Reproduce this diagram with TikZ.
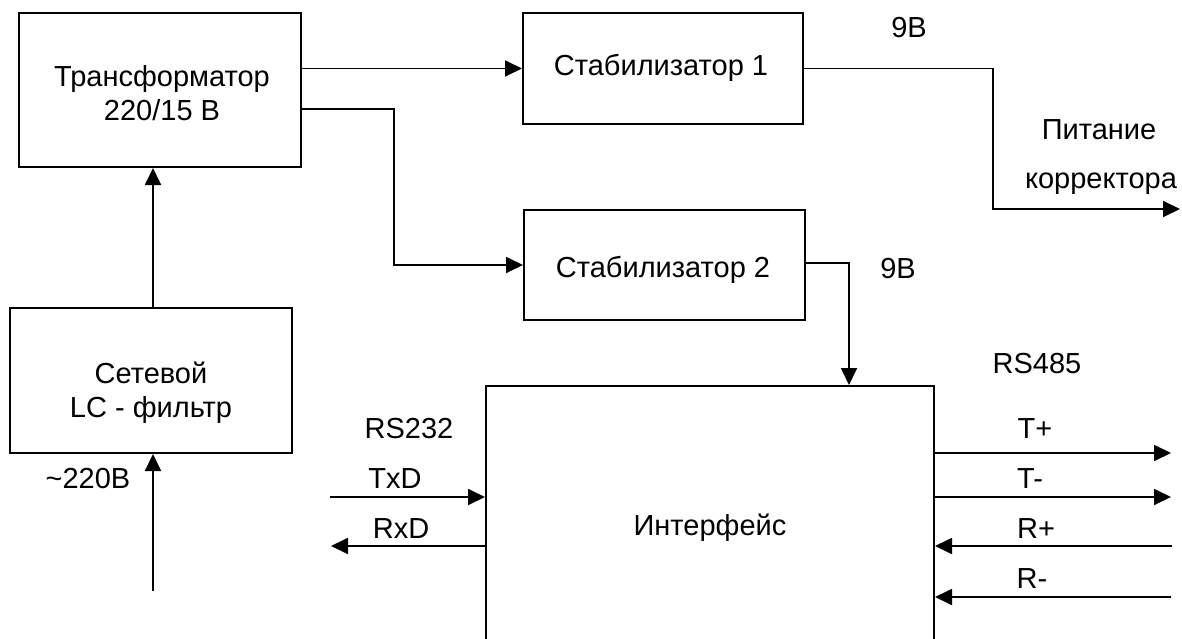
\documentclass[tikz,border=0pt]{standalone}
\usepackage{fontspec}
\setmainfont{Liberation Sans}
\usetikzlibrary{arrows.meta,calc}
\newcommand\dfont{\fontsize{29}{34}\selectfont}
\begin{document}
\begin{tikzpicture}[x=1pt,y=-1pt,
  box/.style={draw,line width=2pt,rectangle,inner sep=0pt},
  lbl/.style={font=\dfont,anchor=base,inner sep=0pt},
  conn/.style={line width=1.8pt},
  arr/.style={conn,-{Triangle[length=17pt,width=16pt]}}]
\useasboundingbox (0,0) rectangle (1182,639);
\clip (0,0) rectangle (1182,639);
\fill[white] (0,0) rectangle (1182,639);
% boxes
\node[box,minimum width=282pt,minimum height=154pt] (t) at (160,90) {};
\node[box,minimum width=280pt,minimum height=111pt] (s1) at (663,68.5) {};
\node[box,minimum width=281pt,minimum height=110pt] (s2) at (664.5,265) {};
\node[box,minimum width=282pt,minimum height=145pt] (lc) at (151,380.5) {};
\node[box,minimum width=448pt,minimum height=314pt] (ifc) at (710,543) {};
% box texts
\node[lbl] (tt1) at (162,87) {Трансформатор};
\node[lbl] (tt2) at (162,121) {220/15 В};
\node[lbl] (s1t) at (661,76) {Стабилизатор 1};
\node[lbl] (s2t) at (663,277) {Стабилизатор 2};
\node[lbl] (lct1) at (151,383) {Сетевой};
\node[lbl] (lct2) at (151,417) {LC - фильтр};
\node[lbl] (ifct) at (710,535) {Интерфейс};
% free labels
\node[lbl] (v1) at (909,38) {9В};
\node[lbl] (pit) at (1099,140) {Питание};
\node[lbl] (kor) at (1101,188) {корректора};
\node[lbl] (v2) at (898,278) {9В};
\node[lbl] (rs485) at (1037,373) {RS485};
\node[lbl] (tp) at (1035,438) {T+};
\node[lbl] (tm) at (1030,488) {T-};
\node[lbl] (rp) at (1036,538) {R+};
\node[lbl] (rm) at (1032,588) {R-};
\node[lbl] (rs232) at (409,438) {RS232};
\node[lbl] (txd) at (395,488) {TxD};
\node[lbl] (rxd) at (401,538) {RxD};
\node[lbl] (ac) at (88,488) {\char"007E 220В};
% free ends
\coordinate (in) at (153,591);
\coordinate (pout) at (1180,209);
\coordinate (txin) at (330,497);
\coordinate (rxout) at (331,546);
\coordinate (tpout) at (1171,453);
\coordinate (tmout) at (1171,497);
\coordinate (rpin) at (1172,546);
\coordinate (rmin) at (1171,597);
% connectors
\draw[arr] (s1.west -| t.east) -- (s1.west);
\draw[arr] (t.east |- 0,109) -- (394,109) |- (s2.west);
\draw[arr] (lc.north -| 153,0) -- (t.south -| 153,0);
\draw[arr] (in) -- (lc.south -| in);
\draw[arr] (s1.east) -- (993,68.5) |- (pout);
\draw[arr] (s2.east |- 0,263) -- (849,263) -- (ifc.north -| 849,0);
\draw[arr] (txin) -- (ifc.west |- txin);
\draw[arr] (ifc.west |- rxout) -- (rxout);
\draw[arr] (ifc.east |- tpout) -- (tpout);
\draw[arr] (ifc.east |- tmout) -- (tmout);
\draw[arr] (rpin) -- (ifc.east |- rpin);
\draw[arr] (rmin) -- (ifc.east |- rmin);
\end{tikzpicture}
\end{document}
